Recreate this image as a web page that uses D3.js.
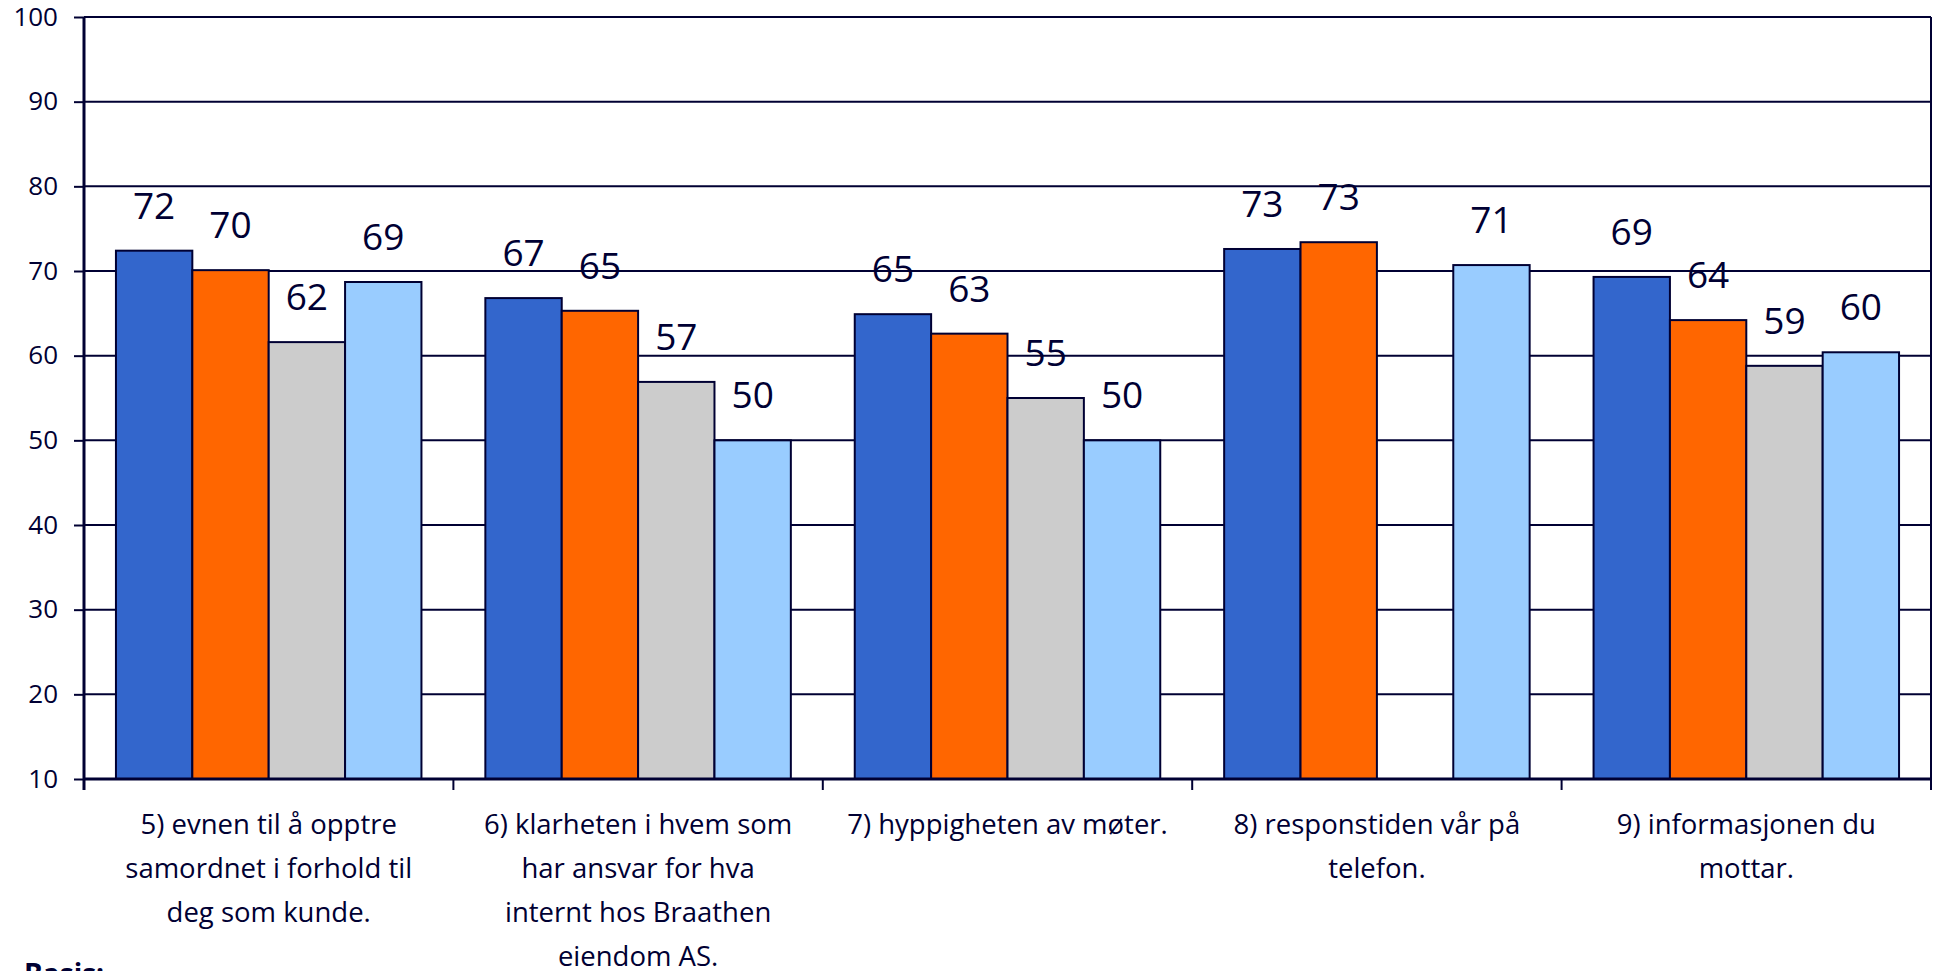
<!DOCTYPE html>
<html>
<head>
<meta charset="utf-8">
<script src="https://cdn.jsdelivr.net/npm/d3@7"></script>
<style>
  html, body { margin: 0; padding: 0; background: #fff; }
  svg { display: block; }
  text { font-family: "Comic Sans MS", "Open Sans", sans-serif; fill: #000033; }
</style>
</head>
<body>
<svg id="chart" width="1935" height="971"></svg>
<script>
// ---- data ----
const categories = [
  "5) evnen til å opptre samordnet i forhold til deg som kunde.",
  "6) klarheten i hvem som har ansvar for hva internt hos Braathen eiendom AS.",
  "7) hyppigheten av møter.",
  "8) responstiden vår på telefon.",
  "9) informasjonen du mottar."
];
const categoryLines = [
  ["5) evnen til å opptre", "samordnet i forhold til", "deg som kunde."],
  ["6) klarheten i hvem som", "har ansvar for hva", "internt hos Braathen", "eiendom AS."],
  ["7) hyppigheten av møter."],
  ["8) responstiden vår på", "telefon."],
  ["9) informasjonen du", "mottar."]
];
const seriesNames = ["Serie 1", "Serie 2", "Serie 3", "Serie 4"];
const series1 = [72.4, 66.8, 64.9, 72.6, 69.3];
const series2 = [70.1, 65.3, 62.6, 73.4, 64.2];
const series3 = [61.6, 56.9, 55.0, null, 58.8];
const series4 = [68.7, 50.0, 50.0, 70.7, 60.4];
const seriesColors = ["#3366CC", "#FF6600", "#CCCCCC", "#99CCFF"];
const yTicks = [10, 20, 30, 40, 50, 60, 70, 80, 90, 100];
const footText = "Basis:";

const allSeries = [series1, series2, series3, series4];

// ---- layout ----
const svg = d3.select("#chart");
const mLeft = 84, mRight = 1931, mTop = 17, mBottom = 779;
const ink = "#000033";

const y = d3.scaleLinear().domain([10, 100]).range([mBottom, mTop]);
const x0 = d3.scaleBand().domain(d3.range(categories.length)).range([mLeft, mRight]).padding(0);
const groupPad = x0.bandwidth() * 0.0865;
const x1 = d3.scaleBand().domain(d3.range(seriesNames.length))
  .range([groupPad, x0.bandwidth() - groupPad]).padding(0);

// gridlines
svg.append("g").selectAll("line").data(yTicks.filter(t => t > 10)).join("line")
  .attr("x1", mLeft).attr("x2", mRight)
  .attr("y1", d => y(d)).attr("y2", d => y(d))
  .attr("stroke", ink).attr("stroke-width", 2);

// right border
svg.append("line").attr("x1", mRight).attr("x2", mRight).attr("y1", mTop).attr("y2", mBottom)
  .attr("stroke", ink).attr("stroke-width", 2);

// bars
const bars = [];
allSeries.forEach((s, si) => s.forEach((v, ci) => { if (v != null) bars.push({ si, ci, v }); }));

svg.append("g").selectAll("rect").data(bars).join("rect")
  .attr("x", d => x0(d.ci) + x1(d.si))
  .attr("width", x1.bandwidth())
  .attr("y", d => y(d.v))
  .attr("height", d => y(10) - y(d.v))
  .attr("fill", d => seriesColors[d.si])
  .attr("stroke", ink).attr("stroke-width", 2);

// value labels
svg.append("g").selectAll("text").data(bars).join("text")
  .attr("x", d => x0(d.ci) + x1(d.si) + x1.bandwidth() / 2)
  .attr("y", d => y(d.v) - 32)
  .attr("text-anchor", "middle")
  .attr("font-size", 37)
  .text(d => Math.round(d.v));

// y axis
const yAxis = d3.axisLeft(y).tickValues(yTicks).tickSize(10).tickPadding(16).tickFormat(d3.format("d"));
const gy = svg.append("g").attr("transform", `translate(${mLeft},0)`).call(yAxis);
gy.select(".domain").remove();
gy.selectAll(".tick line").attr("stroke", ink).attr("stroke-width", 2);
gy.selectAll(".tick text").attr("font-size", 26).attr("fill", ink)
  .attr("font-family", '"Comic Sans MS", "Open Sans", sans-serif');
svg.append("line").attr("x1", mLeft).attr("x2", mLeft).attr("y1", mTop).attr("y2", mBottom + 11)
  .attr("stroke", ink).attr("stroke-width", 3);

// x axis
svg.append("line").attr("x1", mLeft).attr("x2", mRight).attr("y1", mBottom).attr("y2", mBottom)
  .attr("stroke", ink).attr("stroke-width", 3);
const tickXs = d3.range(categories.length + 1).map(i => mLeft + i * x0.step());
svg.append("g").selectAll("line").data(tickXs).join("line")
  .attr("x1", d => d).attr("x2", d => d).attr("y1", mBottom).attr("y2", mBottom + 11)
  .attr("stroke", ink).attr("stroke-width", 2);

// category labels
const cat = svg.append("g").selectAll("text").data(categoryLines).join("text")
  .attr("text-anchor", "middle")
  .attr("font-size", 27.5)
  .attr("transform", (d, i) => `translate(${x0(i) + x0.bandwidth() / 2},${mBottom + 55})`);
cat.selectAll("tspan").data(d => d).join("tspan")
  .attr("x", 0).attr("y", (d, i) => i * 44)
  .text(d => d);

// cut-off footer text (cut off at the page bottom as in the original)
svg.append("text").attr("x", 24).attr("y", 984)
  .attr("font-size", 28).attr("font-weight", "bold").text(footText);
</script>
</body>
</html>
